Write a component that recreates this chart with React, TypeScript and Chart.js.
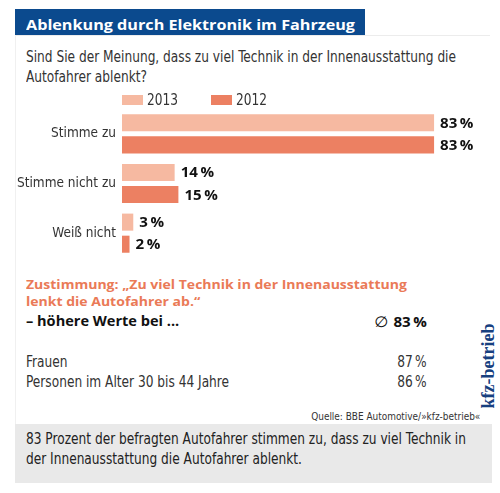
import React, { useEffect, useRef } from "react";
import { Chart, registerables } from "chart.js";

Chart.register(...registerables);

const NARROW = '"DejaVu Sans Condensed", "DejaVu Sans", sans-serif';
const BOLD = '"Open Sans", "DejaVu Sans", sans-serif';

const title = "Ablenkung durch Elektronik im Fahrzeug";
const questionLines = [
  "Sind Sie der Meinung, dass zu viel Technik in der Innenausstattung die",
  "Autofahrer ablenkt?",
];
const categories = ["Stimme zu", "Stimme nicht zu", "Weiß nicht"];
const seriesLabels = ["2013", "2012"];
const values2013 = [83, 14, 3];
const values2012 = [83, 15, 2];
const seriesColors = ["#f6b9a1", "#ec8062"];

const agreeLines = [
  "Zustimmung: \u201EZu viel Technik in der Innenausstattung",
  "lenkt die Autofahrer ab.\u201C",
];
const higherLabel = "\u2013 höhere Werte bei ...";
const averageValue = 83;
const groupLabels = ["Frauen", "Personen im Alter 30 bis 44 Jahre"];
const groupValues = [87, 86];
const sourceText = "Quelle: BBE Automotive/\u00BBkfz-betrieb\u00AB";
const brandText = "kfz-betrieb";
const footerLines = [
  "83 Prozent der befragten Autofahrer stimmen zu, dass zu viel Technik in",
  "der Innenausstattung die Autofahrer ablenkt.",
];

const pct = (v: number) => `${v}\u2009%`;

// horizontal compression factors so the installed fonts match the condensed original
const mctx = document.createElement("canvas").getContext("2d")!;
const textW = (t: string, font: string) => {
  mctx.font = font;
  return mctx.measureText(t).width;
};
const NARROW_S = Math.min(1, 430 / textW(questionLines[0], `15px ${NARROW}`));
const BOLD_S = 329 / textW(title, `bold 15px ${BOLD}`);

const valueLabels = {
  id: "valueLabels",
  afterDatasetsDraw(chart: any) {
    const ctx = chart.ctx;
    ctx.save();
    ctx.font = `bold 14px ${BOLD}`;
    ctx.fillStyle = "#111";
    ctx.textBaseline = "middle";
    ctx.textAlign = "left";
    chart.data.datasets.forEach((ds: any, i: number) => {
      chart.getDatasetMeta(i).data.forEach((el: any, j: number) => {
        ctx.save();
        ctx.translate(el.x + 6, el.y + 1);
        ctx.scale(BOLD_S, 1);
        ctx.fillText(pct(ds.data[j]), 0, 0);
        ctx.restore();
      });
    });
    ctx.restore();
  },
};

const topLegend = {
  id: "topLegend",
  afterDraw(chart: any) {
    const ctx = chart.ctx;
    ctx.save();
    let x = chart.chartArea.left;
    const y = chart.chartArea.top - 9;
    ctx.font = `15px ${NARROW}`;
    ctx.textBaseline = "middle";
    chart.data.datasets.forEach((ds: any) => {
      ctx.fillStyle = ds.backgroundColor;
      ctx.fillRect(x, y - 5, 21, 10);
      ctx.fillStyle = "#333";
      ctx.save();
      ctx.translate(x + 25, y + 1);
      ctx.scale(NARROW_S, 1);
      ctx.fillText(ds.label, 0, 0);
      ctx.restore();
      x += 25 + ctx.measureText(ds.label).width * NARROW_S + 33;
    });
    ctx.restore();
  },
};

const abs = (s: React.CSSProperties): React.CSSProperties => ({
  position: "absolute",
  whiteSpace: "nowrap",
  margin: 0,
  ...s,
});

export default function App() {
  const ref = useRef<HTMLCanvasElement>(null);

  useEffect(() => {
    const chart = new Chart(ref.current!, {
      type: "bar",
      data: {
        labels: categories,
        datasets: [
          {
            label: seriesLabels[0],
            data: values2013,
            backgroundColor: seriesColors[0],
            borderWidth: 0,
            barPercentage: 0.773,
            categoryPercentage: 0.889,
          },
          {
            label: seriesLabels[1],
            data: values2012,
            backgroundColor: seriesColors[1],
            borderWidth: 0,
            barPercentage: 0.773,
            categoryPercentage: 0.889,
          },
        ],
      },
      options: {
        indexAxis: "y",
        responsive: false,
        maintainAspectRatio: false,
        animation: false,
        layout: { padding: { left: 0, right: 2, top: 21, bottom: 15 } },
        plugins: {
          legend: { display: false },
          tooltip: { enabled: false },
        },
        scales: {
          x: { display: false, min: 0, max: 100 },
          y: {
            grid: { display: false, drawTicks: false, tickLength: 0 },
            border: { display: false },
            ticks: {
              color: "#333",
              font: { family: NARROW, size: 13.5 },
              padding: 6,
            },
            afterFit: (scale: any) => {
              scale.width = 122;
            },
          },
        },
      },
      plugins: [valueLabels, topLegend],
    } as any);
    return () => chart.destroy();
  }, []);

  const narrow = (size: number, extra: React.CSSProperties = {}, origin = "left"): React.CSSProperties =>
    abs({
      fontFamily: NARROW,
      fontSize: size,
      transform: `scaleX(${NARROW_S})`,
      transformOrigin: origin,
      ...extra,
    });

  return (
    <div
      style={{
        position: "absolute",
        left: 0,
        top: 0,
        width: 500,
        height: 493,
        background: "#fff",
        overflow: "hidden",
      }}
    >
      {/* title bar */}
      <div style={abs({ left: 15, top: 9, width: 350, height: 26, background: "#0b4a8e" })}>
        <span
          style={abs({
            left: 11,
            top: 8.4,
            fontFamily: BOLD,
            fontWeight: 700,
            fontSize: 15,
            lineHeight: 1,
            color: "#fff",
            transform: `scaleX(${BOLD_S})`,
            transformOrigin: "left",
          })}
        >
          {title}
        </span>
      </div>
      <div style={abs({ left: 15, top: 35, width: 475, height: 1, background: "#ececec" })} />
      <div style={abs({ left: 15, top: 35, width: 1, height: 389, background: "#f0f0f0" })} />

      {/* question */}
      <div style={narrow(15, { left: 26, top: 47.3, lineHeight: "20px", color: "#333" })}>
        {questionLines.map((l, i) => (
          <div key={i}>{l}</div>
        ))}
      </div>

      <canvas
        ref={ref}
        width={500}
        height={185}
        style={abs({ left: 0, top: 88, width: 500, height: 185 })}
      />

      {/* agreement block */}
      <div
        style={abs({
          left: 26,
          top: 275.5,
          fontFamily: BOLD,
          fontWeight: 700,
          fontSize: 13,
          lineHeight: "17px",
          color: "#ea7a57",
          transform: `scaleX(${BOLD_S})`,
          transformOrigin: "left",
        })}
      >
        {agreeLines.map((l, i) => (
          <div key={i}>{l}</div>
        ))}
      </div>
      <div
        style={abs({
          left: 26,
          top: 313,
          fontFamily: BOLD,
          fontWeight: 700,
          fontSize: 13.5,
          lineHeight: "17px",
          color: "#111",
          transform: `scaleX(${BOLD_S})`,
          transformOrigin: "left",
        })}
      >
        {higherLabel}
      </div>
      <div
        style={abs({
          right: 73,
          top: 312.5,
          fontSize: 14,
          lineHeight: "17px",
          color: "#111",
          transform: `scaleX(${BOLD_S})`,
          transformOrigin: "right",
        })}
      >
        <span style={{ fontFamily: '"DejaVu Sans", sans-serif', fontWeight: 400, fontSize: 15 }}>{"\u2205"} </span>
        <span style={{ fontFamily: BOLD, fontWeight: 700 }}>{pct(averageValue)}</span>
      </div>

      {groupLabels.map((g, i) => (
        <React.Fragment key={g}>
          <div style={narrow(15, { left: 26, top: 351.8 + i * 20, lineHeight: "20px", color: "#333" })}>{g}</div>
          <div
            style={narrow(15, { right: 73, top: 351.8 + i * 20, lineHeight: "20px", color: "#333" }, "right")}
          >
            {pct(groupValues[i])}
          </div>
        </React.Fragment>
      ))}

      <div style={narrow(11, { right: 20, top: 410, lineHeight: "14px", color: "#333" }, "right")}>
        {sourceText}
      </div>

      <div
        style={abs({
          left: 438,
          top: 356,
          width: 100,
          height: 20,
          lineHeight: "20px",
          textAlign: "center",
          fontFamily: '"Liberation Serif", "DejaVu Serif", serif',
          fontWeight: 700,
          fontSize: 18,
          color: "#17407f",
          transform: "rotate(-90deg)",
        })}
      >
        {brandText}
      </div>

      {/* footer */}
      <div style={abs({ left: 15, top: 424, width: 477, height: 59, background: "#e9e9e9" })}>
        <div style={narrow(15, { left: 11, top: 4.8, lineHeight: "20px", color: "#222" })}>
          {footerLines.map((l, i) => (
            <div key={i}>{l}</div>
          ))}
        </div>
      </div>
    </div>
  );
}
